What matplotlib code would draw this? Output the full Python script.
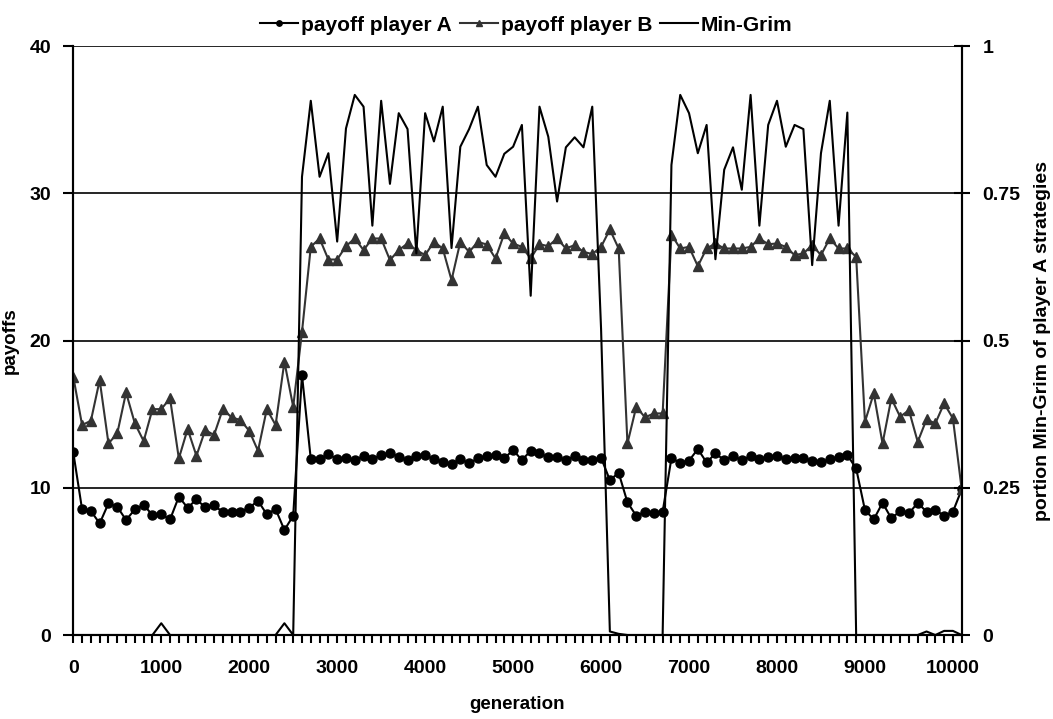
import numpy as np
import matplotlib
matplotlib.use('Agg')
import matplotlib.pyplot as plt
from matplotlib.ticker import MultipleLocator

plt.rcParams['font.family'] = ['Liberation Sans', 'DejaVu Sans']
plt.rcParams['font.weight'] = 'bold'

generation = np.arange(0, 10200, 100)  # 102 samples, one every 100 generations

payoff_a = [12.4, 8.53, 8.42, 7.58, 8.94, 8.71, 7.81, 8.53, 8.83, 8.15,
            8.19, 7.85, 9.39, 8.64, 9.21, 8.67, 8.80, 8.35, 8.37, 8.37,
            8.64, 9.12, 8.19, 8.55, 7.13, 8.10, 17.65, 11.95, 11.93, 12.27,
            11.95, 12.04, 11.88, 12.15, 11.95, 12.22, 12.38, 12.10, 11.88, 12.15,
            12.22, 11.93, 11.77, 11.61, 11.95, 11.66, 12.0, 12.15, 12.22, 12.0,
            12.56, 11.88, 12.51, 12.33, 12.06, 12.10, 11.88, 12.15, 11.88, 11.88,
            12.04, 10.52, 11.02, 9.01, 8.10, 8.37, 8.30, 8.37, 12.0, 11.70,
            11.84, 12.63, 11.72, 12.33, 11.88, 12.15, 11.88, 12.15, 11.94, 12.10,
            12.15, 11.93, 12.0, 12.0, 11.84, 11.72, 11.93, 12.10, 12.22, 11.31,
            8.49, 7.85, 8.98, 7.92, 8.42, 8.26, 8.98, 8.37, 8.49, 8.10,
            8.37, 9.89]

payoff_b = [17.54, 14.26, 14.55, 17.31, 13.01, 13.69, 16.47, 14.37, 13.17, 15.34,
            15.34, 16.07, 11.99, 13.99, 12.17, 13.92, 13.58, 15.34, 14.78, 14.60,
            13.87, 12.51, 15.34, 14.26, 18.56, 15.50, 20.59, 26.36, 26.93, 25.50,
            25.50, 26.41, 26.93, 26.14, 26.93, 26.93, 25.46, 26.14, 26.59, 26.14,
            25.80, 26.70, 26.25, 24.10, 26.70, 26.02, 26.70, 26.52, 25.57, 27.27,
            26.59, 26.36, 25.57, 26.54, 26.41, 26.93, 26.25, 26.48, 26.02, 25.87,
            26.36, 27.54, 26.25, 13.01, 15.50, 14.78, 15.05, 15.05, 27.19, 26.25,
            26.36, 25.05, 26.25, 26.59, 26.25, 26.25, 26.25, 26.36, 26.93, 26.54,
            26.59, 26.36, 25.80, 25.91, 26.48, 25.80, 26.93, 26.25, 26.25, 25.68,
            14.48, 16.41, 13.01, 16.07, 14.82, 15.27, 13.12, 14.64, 14.37, 15.73,
            14.71, 9.89]

min_grim = [0, 0, 0, 0, 0, 0, 0, 0, 0, 0,
            0.02, 0, 0, 0, 0, 0, 0, 0, 0, 0,
            0, 0, 0, 0, 0.02, 0, 0.778, 0.907, 0.778, 0.818,
            0.668, 0.860, 0.917, 0.897, 0.695, 0.907, 0.766, 0.886, 0.859, 0.648,
            0.886, 0.838, 0.897, 0.657, 0.829, 0.859, 0.897, 0.798, 0.778, 0.817,
            0.829, 0.866, 0.576, 0.897, 0.846, 0.736, 0.828, 0.845, 0.828, 0.897,
            0.52, 0.006, 0.002, 0, 0, 0, 0, 0, 0.798, 0.917,
            0.886, 0.818, 0.866, 0.638, 0.790, 0.828, 0.756, 0.917, 0.695, 0.866,
            0.907, 0.829, 0.866, 0.859, 0.628, 0.818, 0.907, 0.695, 0.887, 0,
            0, 0, 0, 0, 0, 0, 0, 0.006, 0, 0.007,
            0.007, 0]

right_ticks = [0, 0.25, 0.5, 0.75, 1]
right_labels = ['0', '0.25', '0.5', '0.75', '1']

fig = plt.figure(figsize=(10.53, 7.19), dpi=100)
ax = fig.add_axes([0.0696, 0.1168, 0.8437, 0.8192])
ax2 = ax.twinx()

l1, = ax.plot(generation, payoff_a, color='black', lw=1.5, marker='o', ms=6.5,
              label='payoff player A', zorder=3)
l2, = ax.plot(generation, payoff_b, color='#333333', lw=1.5, marker='^', ms=7.5,
              label='payoff player B', zorder=3)
l3, = ax2.plot(generation, min_grim, color='black', lw=1.5, label='Min-Grim')

ax.set_xlim(0, 10100)
ax.set_ylim(0, 40)
ax2.set_ylim(0, 1)
ax.xaxis.set_major_locator(MultipleLocator(1000))
ax.xaxis.set_minor_locator(MultipleLocator(100))
ax.yaxis.set_major_locator(MultipleLocator(10))
ax2.set_yticks(right_ticks, right_labels)

ax.grid(axis='y', color='black', lw=1.2)
for a in (ax, ax2):
    a.spines['top'].set_visible(False)
    for s in ('left', 'right', 'bottom'):
        a.spines[s].set_linewidth(1.5)

ax.tick_params(axis='x', which='both', direction='out', length=6, width=1.5, labelsize=14, pad=12)
ax.tick_params(axis='y', direction='out', length=7, width=1.5, labelsize=14, pad=9)
ax2.tick_params(axis='y', direction='inout', length=12, width=1.5, labelsize=14, pad=9)

ax.set_xlabel('generation', fontsize=13.5, fontweight='bold', labelpad=14)
ax.set_ylabel('payoffs', fontsize=13.5, fontweight='bold', labelpad=8)
ax2.set_ylabel('portion Min-Grim of player A strategies', fontsize=14,
               fontweight='bold', labelpad=10)

fig.legend(handles=[l1, l2, l3], loc='center', bbox_to_anchor=(0.5, 0.965), ncol=3,
           frameon=False, fontsize=15, handlelength=1.8, handletextpad=0.15,
           columnspacing=0.4, markerscale=0.6)

fig.savefig('out.png', dpi=100)
